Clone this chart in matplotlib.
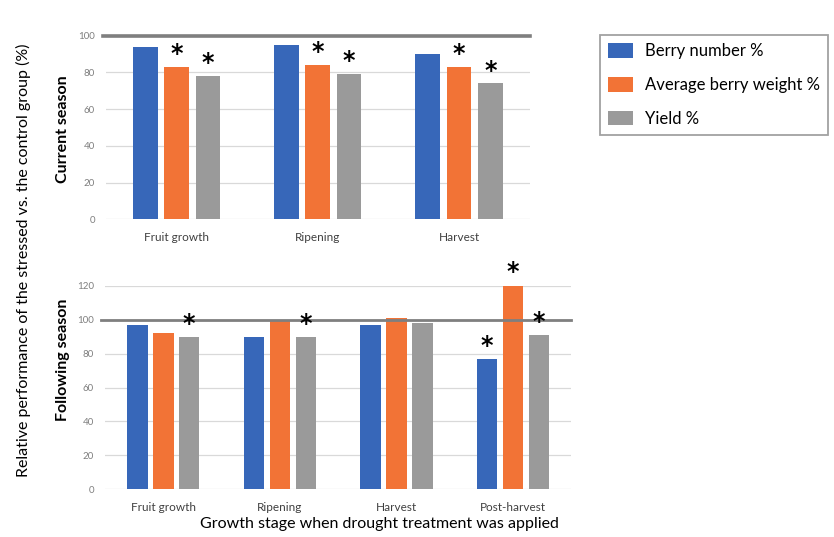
"""Berry number / berry weight / yield of drought-stressed vines, relative to control."""
import matplotlib.pyplot as plt
import numpy as np

plt.rcParams["font.family"] = ["Lato", "DejaVu Sans"]

SERIES = ["Berry number %", "Average berry weight %", "Yield %"]
COLORS = ["#3767b9", "#f27336", "#9a9a9a"]

# current season
cur_stages = ["Fruit growth", "Ripening", "Harvest"]
cur_berry_num = [94, 95, 90]
cur_berry_wt = [83, 84, 83]
cur_yield = [78, 79, 74]
cur_sig = [[False, True, True], [False, True, True], [False, True, True]]

# following season
fol_stages = ["Fruit growth", "Ripening", "Harvest", "Post-harvest"]
fol_berry_num = [97, 90, 97, 77]
fol_berry_wt = [92, 100, 101, 120.5]
fol_yield = [90, 90, 98, 91]
fol_sig = [[False, False, True], [False, False, True], [False, False, False], [True, True, True]]

W = 0.175
STEP = 0.222


def draw_panel(ax, stages, values, sig, ymax, yticks, ref_lw):
    x = np.arange(len(stages))
    for k, (vals, col) in enumerate(zip(values, COLORS)):
        xs = x + (k - 1) * STEP
        ax.bar(xs, vals, width=W, color=col, zorder=2, label=SERIES[k])
        for i, v in enumerate(vals):
            if sig[i][k]:
                ax.text(xs[i], v + 0.5, "*", ha="center", va="bottom",
                        fontsize=17, fontweight="bold", color="black",
                        clip_on=False, zorder=4, family="DejaVu Sans")
    ax.axhline(100, color="#7f7f7f", lw=ref_lw, zorder=3, xmin=-0.008, clip_on=False)
    ax.set_xlim(-0.5, len(stages) - 0.5)
    ax.set_ylim(0, ymax)
    ax.set_yticks(yticks)
    ax.set_xticks(x)
    ax.set_xticklabels(stages, fontsize=8.5, color="#404040")
    ax.tick_params(axis="y", labelsize=7, colors="#7f7f7f", length=0, pad=8)
    ax.tick_params(axis="x", length=0, pad=9)
    ax.grid(axis="y", color="#d9d9d9", lw=0.9, zorder=0)
    for s in ax.spines.values():
        s.set_visible(False)


fig = plt.figure(figsize=(8.34, 5.37), dpi=100)
ax1 = fig.add_axes([0.127, 0.5916, 0.508, 0.3419])
ax2 = fig.add_axes([0.126, 0.0888, 0.559, 0.379])

draw_panel(ax1, cur_stages, [cur_berry_num, cur_berry_wt, cur_yield], cur_sig,
           100, range(0, 101, 20), 2.6)
draw_panel(ax2, fol_stages, [fol_berry_num, fol_berry_wt, fol_yield], fol_sig,
           120, range(0, 121, 20), 2.0)

fig.text(0.076, 0.76, "Current season", rotation=90, ha="center", va="center",
         fontsize=11.5, fontweight="bold")
fig.text(0.076, 0.33, "Following season", rotation=90, ha="center", va="center",
         fontsize=11.5, fontweight="bold")
fig.text(0.028, 0.515, "Relative performance of the stressed vs. the control group (%)",
         rotation=90, ha="center", va="center", fontsize=11.5)
fig.text(0.455, 0.025, "Growth stage when drought treatment was applied",
         ha="center", va="center", fontsize=11.5)

handles, labels = ax1.get_legend_handles_labels()
leg = fig.legend(handles, labels, loc="upper left", bbox_to_anchor=(0.719, 0.935),
                 borderaxespad=0, fontsize=12, frameon=True, fancybox=False,
                 handlelength=1.5, handleheight=1.0, labelspacing=1.05,
                 borderpad=0.5, handletextpad=0.7)
leg.get_frame().set_edgecolor("#8a8a8a")
leg.get_frame().set_linewidth(1.3)

fig.savefig("out.png", dpi=100)
